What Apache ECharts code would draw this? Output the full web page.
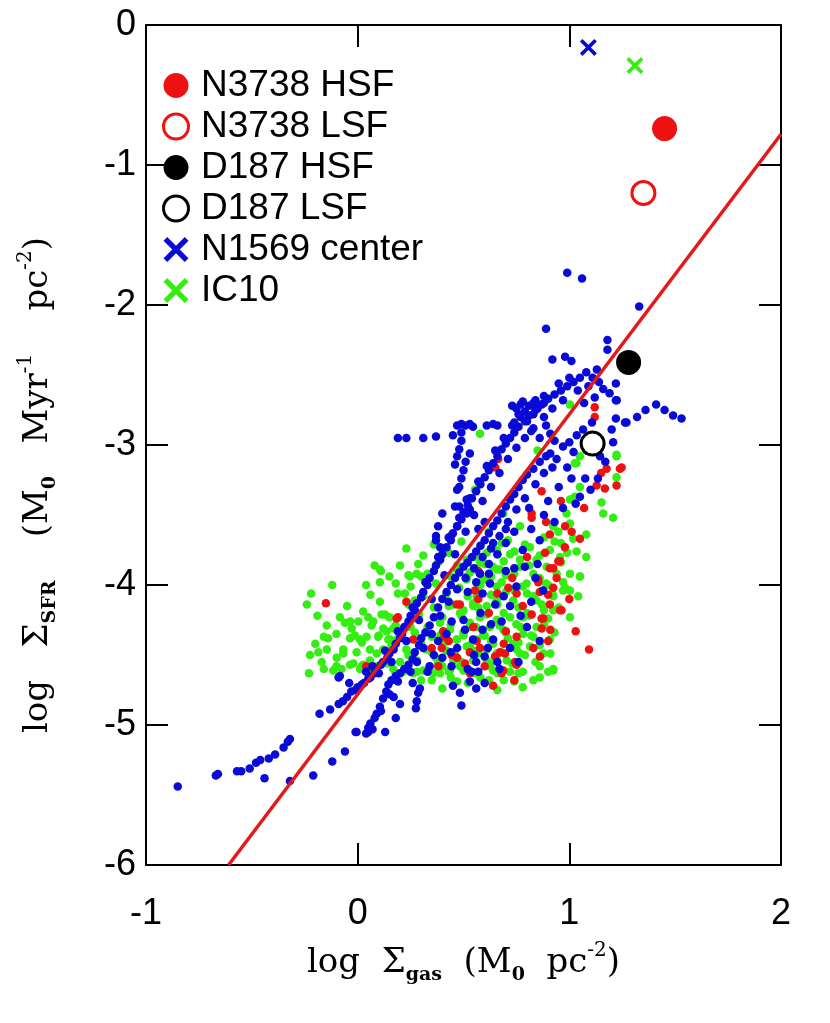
<!DOCTYPE html>
<html>
<head>
<meta charset="utf-8">
<script src="https://cdn.jsdelivr.net/npm/echarts@6/dist/echarts.min.js"></script>
<style>
  html, body { margin: 0; padding: 0; background: #fff; }
  #main { width: 830px; height: 1023px; }
</style>
</head>
<body>
<div id="main"></div>
<script>
// log Sigma_gas, log Sigma_SFR pairs
var greenDots = [
  [0.23,-3.74],[0.08,-3.86],[0.11,-3.90],[0.286,-3.85],[0.279,-3.92],[0.24,-3.93],[-0.22,-4.06],[-0.12,-4.0],
  [0.04,-4.0],[0.105,-3.98],[0.18,-3.99],[0.223,-4.06],[-0.24,-4.14],[-0.084,-4.23],[-0.06,-4.27],[-0.028,-4.31],
  [-0.146,-4.29],[-0.16,-4.37],[-0.14,-4.38],[0.003,-4.26],[0.026,-4.19],[0.105,-4.12],[0.113,-4.21],[0.15,-4.23],
  [0.066,-4.29],[0.042,-4.37],[0.097,-4.37],[0.137,-4.33],[-0.036,-4.38],[0.011,-4.39],[-0.225,-4.50],[-0.186,-4.48],
  [-0.146,-4.46],[-0.099,-4.52],[-0.068,-4.49],[-0.02,-4.56],[0.026,-4.57],[-0.23,-4.63],[-0.16,-4.60],[-0.115,-4.61],
  [-0.076,-4.60],[0.011,-4.60],[0.058,-4.54],[0.121,-4.46],[0.153,-4.39],[0.184,-4.39],[0.23,-4.46],[0.168,-4.60],
  [0.215,-4.62],[0.263,-4.63],[0.31,-4.61],[0.357,-4.63],[0.40,-4.58],[0.325,-4.46],[0.30,-3.94],[0.247,-3.94],
  [0.27,-4.11],[0.129,-4.21],[-0.036,-4.26],[0.074,-4.26],[0.121,-4.31],[0.168,-4.31],[-0.013,-4.36],[0.145,-4.39],
  [-0.068,-4.46],[-0.005,-4.48],[0.058,-4.46],[-0.10,-4.58],[-0.036,-4.57],[0.019,-4.58],[0.09,-4.58],[0.28,-4.62],
  [0.34,-4.58],[0.389,-4.27],[0.436,-4.32],[0.468,-4.39],[0.50,-4.36],[0.53,-4.30],[0.562,-4.39],[0.593,-4.36],
  [0.625,-4.30],[0.657,-4.25],[0.61,-4.46],[0.657,-4.51],[0.546,-4.54],[0.483,-4.58],[0.436,-4.61],[0.389,-4.63],
  [0.515,-3.96],[0.562,-4.04],[0.61,-3.96],[0.64,-3.87],[0.657,-4.01],[0.468,-3.89],[0.515,-3.82],[0.61,-3.77],
  [0.657,-3.75],[0.546,-4.13],[0.61,-4.15],[0.50,-4.18],[0.578,-3.84],[0.657,-3.89],[0.70,-3.93],[0.767,-3.87],
  [0.83,-3.92],[0.893,-3.87],[1.003,-3.92],[1.05,-3.94],[0.97,-4.04],[0.924,-4.08],[0.80,-4.06],[0.735,-4.11],
  [0.80,-4.20],[0.845,-4.30],[0.782,-4.35],[0.735,-4.42],[0.767,-4.49],[0.814,-4.44],[0.704,-4.54],[0.657,-4.49],
  [0.625,-4.58],[0.924,-4.60],[0.877,-4.49],[0.908,-4.39],[0.50,-4.61],[0.452,-4.54],[0.515,-4.44],[0.468,-4.39],
  [0.53,-4.27],[0.483,-4.20],[0.546,-4.15],[0.593,-3.96],[0.515,-3.94],[0.562,-4.08],[1.223,-3.08],[1.223,-3.23],
  [1.152,-3.41],[1.207,-3.52],[1.16,-3.49],[1.08,-3.64],[1.08,-3.80],[1.05,-3.94],[1.042,-4.08],[1.003,-4.04],
  [0.971,-3.98],[1.003,-4.23],[0.924,-4.61],[1.026,-3.37],[1.05,-3.30],[1.003,-3.39],[1.034,-3.13],[1.05,-3.08],
  [0.948,-3.62],[1.018,-3.67],[1.034,-3.76],[0.554,-3.32],[0.688,-3.49],[0.767,-3.58],[0.814,-3.73],[0.908,-3.75],
  [0.956,-3.80],[0.845,-3.82],[0.767,-3.82],[0.672,-3.89],[0.625,-3.99],[0.798,-3.99],[0.845,-4.11],[0.924,-4.18],
  [0.782,-4.23],[0.72,-4.15],[0.657,-4.11],[0.578,-4.23],[0.688,-4.32],[0.83,-4.37],[0.751,-4.46],[0.625,-4.56],
  [0.924,-3.58],[0.987,-3.49],[1.003,-3.56],[1.003,-2.71],[1.223,-3.07],[1.026,-3.13],[0.85,-3.04],[1.08,-3.04],
  [0.578,-2.92],[0.56,-3.32],[0.105,-3.89],[0.72,-4.62],[0.78,-4.62],[0.86,-4.58],[0.69,-4.68],[0.58,-4.66],
  [0.44,-4.66],[0.30,-4.68],[0.20,-4.55],[0.37,-4.52],[0.42,-4.47],[0.55,-4.47],[0.71,-4.38],[0.75,-4.28],
  [0.88,-4.18],[0.90,-4.00],[0.72,-3.78],[0.68,-3.70],[0.62,-3.62],[0.88,-3.66],[0.96,-3.70],[0.74,-4.04],
  [0.69,-4.20],[0.63,-4.40],[0.35,-4.37],[0.25,-4.30],[0.43,-4.15],[0.86,-4.66],[0.66,-4.63],[0.52,-4.70],
  [0.36,-3.71],[0.49,-3.69],[0.58,-3.72],[0.71,-3.68],[0.79,-3.71],[0.93,-3.69],
  [0.31,-3.79],[0.43,-3.77],[0.55,-3.80],[0.66,-3.78],[0.74,-3.76],[0.86,-3.79],[0.99,-3.77],
  [0.20,-3.86],[0.38,-3.84],[0.47,-3.86],[0.60,-3.85],[0.69,-3.83],[0.81,-3.86],[0.96,-3.84],
  [0.15,-3.94],[0.33,-3.92],[0.44,-3.94],[0.53,-3.91],[0.63,-3.94],[0.74,-3.92],[0.86,-3.95],[0.94,-3.92],
  [0.25,-4.01],[0.37,-3.99],[0.48,-4.02],[0.58,-4.00],[0.68,-3.98],[0.78,-4.01],[0.89,-3.99],[0.98,-4.02],
  [0.06,-4.07],[0.19,-4.06],[0.31,-4.08],[0.42,-4.06],[0.52,-4.08],[0.63,-4.07],[0.70,-4.05],[0.83,-4.08],[0.92,-4.06],
  [-0.05,-4.15],[0.24,-4.14],[0.36,-4.16],[0.45,-4.14],[0.57,-4.16],[0.66,-4.14],[0.76,-4.16],[0.87,-4.14],[0.95,-4.16],
  [-0.19,-4.22],[0.05,-4.23],[0.29,-4.21],[0.40,-4.23],[0.49,-4.22],[0.61,-4.21],[0.72,-4.23],[0.81,-4.22],[0.90,-4.24],
  [0.18,-4.29],[0.33,-4.30],[0.44,-4.28],[0.56,-4.30],[0.67,-4.29],[0.77,-4.30],[0.88,-4.28],
  [-0.10,-4.35],[0.10,-4.36],[0.27,-4.34],[0.39,-4.36],[0.50,-4.34],[0.60,-4.36],[0.70,-4.34],[0.82,-4.36],[0.93,-4.34],
  [-0.20,-4.42],[0.02,-4.41],[0.16,-4.43],[0.30,-4.42],[0.41,-4.41],[0.53,-4.43],[0.64,-4.42],[0.76,-4.41],[0.86,-4.43],
  [0.09,-4.49],[0.24,-4.50],[0.35,-4.48],[0.46,-4.50],[0.57,-4.49],[0.68,-4.48],[0.79,-4.50],[0.91,-4.49],
  [-0.17,-4.55],[0.14,-4.56],[0.28,-4.54],[0.38,-4.56],[0.49,-4.55],[0.61,-4.54],[0.73,-4.56],[0.84,-4.55],
  [0.07,-4.62],[0.18,-4.63],[0.43,-4.62],[0.55,-4.63],[0.64,-4.61],[0.76,-4.63],[0.90,-4.62],
  [0.35,-4.68],[0.47,-4.69],[0.62,-4.68],[0.74,-4.69],[0.83,-4.68],[0.40,-4.74],[0.66,-4.75],[0.78,-4.73]
];
var redDots = [
  [-0.15,-4.13],[0.23,-4.12],[0.19,-4.23],[0.04,-4.58],[0.184,-4.24],[0.263,-4.39],[0.483,-4.14],[0.578,-3.92],
  [0.554,-4.04],[0.404,-4.33],[0.397,-4.45],[0.444,-4.50],[0.507,-4.56],[0.53,-4.63],[0.381,-4.58],[0.562,-4.40],
  [0.578,-4.45],[0.649,-4.51],[0.672,-4.48],[0.696,-4.49],[0.743,-4.55],[0.751,-4.57],[0.68,-4.63],[0.751,-4.37],
  [0.712,-4.02],[0.751,-4.06],[0.853,-3.96],[0.924,-4.02],[0.908,-4.14],[0.963,-4.18],[0.877,-4.24],[0.822,-4.21],
  [0.869,-4.31],[0.90,-4.40],[0.861,-4.51],[0.956,-3.83],[0.924,-3.88],[1.03,-4.33],[1.093,-4.46],[0.546,-4.30],
  [0.468,-4.14],[0.664,-3.10],[0.65,-3.16],[0.869,-3.33],[0.822,-3.49],[0.822,-3.52],[0.908,-3.64],[1.011,-3.62],
  [1.05,-3.67],[0.979,-3.73],[0.885,-3.77],[0.948,-3.83],[0.908,-3.88],[0.853,-3.98],[0.90,-4.07],[0.956,-4.18],
  [0.869,-4.24],[0.688,-4.61],[1.176,-3.17],[1.239,-3.17],[1.223,-3.29],[1.168,-3.31],[1.129,-3.29],[0.57,-3.90],
  [1.12,-2.73],[1.12,-2.80],[1.247,-3.16],[0.41,-4.37],
  [0.62,-4.20],[0.70,-4.33],[0.78,-4.15],[0.83,-4.45],[0.66,-4.06],[0.73,-3.95],[0.47,-4.52],[0.53,-4.48],
  [0.60,-4.58],[0.80,-3.80],[0.94,-3.95],[1.00,-4.10],[0.98,-3.58],[0.89,-3.55],[0.74,-4.68],[0.64,-4.72],
  [0.43,-4.40],[0.35,-4.45],[0.57,-4.10],[0.86,-4.05],[0.91,-4.32],[0.69,-4.42],[1.07,-3.45],[0.96,-3.40],[1.15,-3.20]
];
var blueDots = [
  [-0.85,-5.44],[-0.67,-5.36],[-0.66,-5.35],[-0.57,-5.33],[-0.55,-5.33],[-0.51,-5.31],[-0.48,-5.27],[-0.46,-5.25],
  [-0.42,-5.24],[-0.39,-5.21],[-0.35,-5.16],[-0.33,-5.12],[-0.32,-5.10],[-0.44,-5.38],[-0.32,-5.40],[-0.21,-5.36],
  [-0.12,-5.26],[-0.06,-5.19],[-0.01,-5.05],[0.05,-5.05],[0.13,-5.05],
  [-0.18,-4.92],[-0.13,-4.89],[-0.09,-4.85],[-0.07,-4.83],[-0.05,-4.80],[-0.03,-4.76],[-0.01,-4.75],[0.0,-4.73],
  [0.02,-4.71],[0.03,-4.70],[0.05,-4.67],[0.06,-4.66],[-0.09,-4.66],[0.08,-4.63],[0.09,-4.60],[0.11,-4.57],
  [0.12,-4.55],[0.14,-4.52],[0.15,-4.49],[0.17,-4.46],[0.18,-4.42],[0.20,-4.38],[0.21,-4.35],[0.22,-4.30],
  [0.24,-4.26],[0.25,-4.22],[0.27,-4.18],[0.28,-4.13],[0.30,-4.09],[0.31,-4.05],[0.33,-4.00],[0.34,-3.95],
  [0.36,-3.90],[0.37,-3.86],[0.39,-3.82],[0.40,-3.78],[0.42,-3.73],[0.44,-3.68],[0.45,-3.63],[0.47,-3.58],
  [0.49,-3.53],[0.50,-3.48],[0.52,-3.43],[0.54,-3.38],[0.56,-3.33],[0.58,-3.28],[0.60,-3.23],[0.62,-3.18],
  [0.64,-3.13],[0.66,-3.08],[0.68,-3.03],[0.70,-2.99],[0.72,-2.95],[0.74,-2.91],[0.76,-2.87],[0.79,-2.83],
  [0.81,-2.79],[0.84,-2.75],[0.87,-2.71],[0.90,-2.67],[0.93,-2.64],[0.96,-2.61],[0.99,-2.58],[1.02,-2.55],
  [0.10,-4.63],[0.16,-4.55],[0.23,-4.40],[0.29,-4.25],[0.35,-4.10],[0.41,-3.93],[0.46,-3.78],[0.51,-3.62],
  [0.55,-3.50],[0.59,-3.40],[0.63,-3.30],[0.67,-3.20],[0.71,-3.10],[0.75,-3.02],[0.79,-2.95],[0.83,-2.88],
  [0.88,-2.80],[0.92,-2.74],[0.97,-2.68],
  [-0.04,-4.70],[0.04,-4.62],[0.07,-4.58],[0.13,-4.47],[0.19,-4.33],[0.26,-4.16],[0.32,-3.98],[0.38,-3.80],
  [0.43,-3.66],[0.48,-3.52],[0.53,-3.38],[0.57,-3.26],[0.61,-3.15],[0.65,-3.04],[0.69,-2.95],[0.73,-2.86],
  [0.77,-2.80],[0.83,-2.70],[0.88,-2.65],[0.95,-2.56],[1.00,-2.52],
  [0.47,-3.32],[0.48,-3.44],[0.515,-3.49],[0.47,-3.58],[0.40,-3.49],[0.38,-3.58],[0.37,-3.65],[0.39,-3.73],
  [0.48,-3.30],[0.515,-3.39],[0.53,-3.46],[0.46,-3.44],[0.37,-3.68],[0.44,-3.65],[0.49,-3.24],[0.50,-3.18],
  [0.51,-3.12],[0.53,-3.06],
  [0.19,-2.95],[0.23,-2.95],[0.31,-2.95],[0.37,-2.94],[0.45,-2.93],[0.47,-2.86],[0.49,-2.85],[0.51,-2.86],
  [0.53,-2.85],[0.545,-2.87],[0.61,-2.86],[0.64,-2.85],[0.66,-2.86],[0.49,-2.91],[0.49,-2.97],[0.48,-3.03],
  [0.47,-3.08],[0.46,-3.14],
  [0.73,-2.72],[0.75,-2.74],[0.77,-2.71],[0.79,-2.76],[0.81,-2.72],[0.83,-2.78],[0.85,-2.74],[0.80,-2.83],
  [0.82,-2.90],[0.86,-2.95],[0.78,-2.69],[0.84,-2.68],[0.88,-2.70],[0.76,-2.78],[0.74,-2.84],[0.89,-2.86],
  [0.91,-2.92],[0.93,-2.97],
  [0.99,-1.77],[1.06,-1.81],[1.33,-2.01],[0.89,-2.17],[0.92,-2.39],[0.98,-2.37],[1.01,-2.40],[1.18,-2.25],
  [1.18,-2.32],[1.22,-2.56],[1.27,-2.84],[1.32,-2.80],[1.36,-2.75],[1.41,-2.71],[1.45,-2.75],[1.49,-2.79],
  [1.53,-2.81],[1.22,-2.68],[1.22,-2.81],[1.08,-2.48],[1.11,-2.52],[1.14,-2.55],[1.16,-2.60],[1.19,-2.63],
  [1.13,-2.46],[1.09,-2.58],[1.05,-2.52],[1.04,-2.61],[1.12,-2.66],[1.07,-2.70],
  [0.04,-5.06],[0.05,-5.02],[0.06,-4.99],[0.08,-4.95],[0.09,-4.92],[0.105,-4.87],[0.12,-4.81],[0.135,-4.76],
  [0.145,-4.71],[0.16,-4.68],[0.18,-4.65],[0.20,-4.63],[0.22,-4.60],[0.24,-4.57],[0.26,-4.53],[0.27,-4.48],
  [0.29,-4.43],[0.30,-4.38],[0.32,-4.34],[0.34,-4.29],[0.36,-4.23],[0.38,-4.16],[0.40,-4.10],[0.42,-4.05],
  [0.44,-4.00],[0.46,-3.95],[0.48,-3.91],[0.50,-3.87],[0.52,-3.84],[0.54,-3.80],[0.56,-3.76],[0.58,-3.72],
  [0.60,-3.68],[0.62,-3.63],[0.64,-3.58],[0.66,-3.54],[0.68,-3.49],[0.70,-3.44],[0.72,-3.39],[0.74,-3.35],
  [0.76,-3.30],[0.78,-3.25],[0.80,-3.21],[0.83,-3.17],[0.86,-3.12],[0.89,-3.08],[0.91,-3.06],[0.97,-3.01],
  [1.00,-2.98],[1.035,-2.93],[1.065,-2.89],[1.107,-2.84],
  [0.07,-5.03],[0.11,-4.90],[0.15,-4.78],[0.19,-4.69],[0.25,-4.62],[0.28,-4.55],[0.31,-4.45],[0.35,-4.35],
  [0.39,-4.22],[0.43,-4.12],[0.47,-4.03],[0.51,-3.95],[0.55,-3.88],[0.59,-3.80],[0.63,-3.74],[0.67,-3.65],
  [0.71,-3.55],[0.75,-3.46],[0.79,-3.38],[0.84,-3.28],[0.88,-3.20],[0.94,-3.10],[1.02,-3.05],
  [0.92,-3.16],[0.99,-3.16],[1.01,-3.24],[1.075,-3.24],[1.135,-3.24],[1.10,-3.32],[1.05,-3.37],[1.03,-3.42],
  [1.145,-3.08],[1.17,-3.12],[1.207,-2.98],[1.20,-2.89],[1.224,-2.68],[1.263,-2.84],[0.95,-3.30],[0.97,-3.45],
  [0.90,-3.40],[0.93,-3.55],[0.88,-3.50],
  [0.483,-4.77],[0.49,-4.86],[0.56,-4.74],[0.60,-4.70],[0.53,-4.69],[0.57,-4.62],[0.294,-4.74],[0.279,-4.83],
  [0.286,-4.77],[0.275,-4.88],[-0.084,-4.65],[-0.005,-5.05],[0.578,-3.92],[0.625,-3.99],[0.59,-4.06],[0.65,-4.14],
  [0.68,-4.26],[0.59,-4.32],[0.615,-4.45],[0.60,-4.51],[0.72,-4.15],[0.75,-4.01],[0.79,-3.87],[0.876,-4.04],
  [0.64,-4.39],[0.545,-4.39],[0.507,-4.32],[0.444,-4.26],[0.40,-4.52],[0.444,-4.58],[0.539,-4.62],[0.70,-3.70],
  [0.74,-3.62],[0.66,-3.78],[0.82,-3.60],[0.78,-3.75],[0.85,-3.85],[0.70,-3.90],[0.62,-3.85],[0.58,-4.20],
  [0.66,-4.55],[0.72,-4.45],[0.80,-4.30],[0.86,-4.40],[0.76,-4.55],[0.82,-4.12],[0.47,-4.45],[0.36,-4.50],
  [0.33,-4.62],[0.38,-4.40],[0.26,-4.70],[0.20,-4.85],[0.18,-4.95],[0.17,-4.80],[0.34,-4.58],[0.52,-4.05],
  [0.56,-3.98],[0.64,-3.70],[0.60,-3.55],[0.57,-3.60],[0.55,-4.50],[0.45,-4.72],
  [0.42,-4.35],[0.50,-4.25],[0.56,-4.55],[0.63,-4.28],[0.69,-4.08],[0.74,-3.88],[0.77,-4.22],[0.84,-3.95],
  [0.67,-4.60],[0.52,-4.60],[0.44,-4.48],[0.62,-3.92],[0.70,-3.60],[0.81,-3.45],[0.86,-3.68]
];
var n3738HSF = [[1.45, -0.74]];
var n3738LSF = [[1.35, -1.20]];
var d187HSF = [[1.28, -2.41]];
var d187LSF = [[1.11, -2.99]];
var n1569Center = [[1.09, -0.16]];
var ic10 = [[1.31, -0.29]];
var fitLine = [[-0.61, -6], [2, -0.78]];

var RED = '#ee1111', BLUE = '#0a0ad8', GREEN = '#33ee11';
var cross = 'path://M0,1.5L1.5,0L5,3.5L8.5,0L10,1.5L6.5,5L10,8.5L8.5,10L5,6.5L1.5,10L0,8.5L3.5,5Z';

var chart = echarts.init(document.getElementById('main'));

var serif = 'DejaVu Serif';
var nameRich = {
  n: { fontFamily: serif, fontSize: 34, lineHeight: 44, color: '#000' },
  s: { fontFamily: serif, fontSize: 19, fontWeight: 'bold', lineHeight: 16, verticalAlign: 'bottom', color: '#000' },
  p: { fontFamily: serif, fontSize: 20, lineHeight: 22, verticalAlign: 'top', color: '#000' },
  e: { width: 80 }
};

function dotSeries(name, data, color) {
  return {
    name: name, type: 'scatter', data: data, symbol: 'circle', symbolSize: 8.5,
    itemStyle: { color: color, opacity: 1 }, silent: true, z: 2
  };
}

function bigSeries(name, data, symbol, size, style) {
  style.opacity = 1;
  return { name: name, type: 'scatter', data: data, symbol: symbol, symbolSize: size, z: 5, itemStyle: style };
}

var tickStyle = { inside: true, length: 22, lineStyle: { color: '#000', width: 2 } };
var lineStyle = { show: true, onZero: false, lineStyle: { color: '#000', width: 2 } };
var labelFont = { fontFamily: 'Liberation Sans', fontSize: 36, color: '#000' };

var option = {
  backgroundColor: '#fff',
  animation: false,
  grid: { left: 146, right: 49, top: 25, bottom: 158 },
  legend: {
    orient: 'vertical', left: 157, top: 62, itemWidth: 40, itemHeight: 25, itemGap: 4,
    selectedMode: false,
    textStyle: { fontFamily: 'Liberation Sans', fontSize: 37, lineHeight: 31, color: '#000' },
    data: [
      { name: 'N3738 HSF', icon: 'circle', itemStyle: { color: RED, opacity: 1 } },
      { name: 'N3738 LSF', icon: 'circle', itemStyle: { color: '#fff', borderColor: RED, borderWidth: 3, opacity: 1 } },
      { name: 'D187 HSF', icon: 'circle', itemStyle: { color: '#000', opacity: 1 } },
      { name: 'D187 LSF', icon: 'circle', itemStyle: { color: '#fff', borderColor: '#000', borderWidth: 3, opacity: 1 } },
      { name: 'N1569 center', icon: cross, itemStyle: { color: BLUE, opacity: 1 } },
      { name: 'IC10', icon: cross, itemStyle: { color: GREEN, opacity: 1 } }
    ]
  },
  xAxis: [{
    type: 'value', min: -1, max: 2, interval: 1, position: 'bottom',
    axisLine: lineStyle, axisTick: tickStyle, splitLine: { show: false },
    axisLabel: Object.assign({ margin: 31, showMinLabel: true, showMaxLabel: true }, labelFont),
    name: '{n|log  Σ}{s|gas}{n|  (M}{s|0}{n|  pc}{p|-2}{n|)}',
    nameLocation: 'middle', nameGap: 76,
    nameTextStyle: { rich: nameRich }
  }, {
    type: 'value', min: -1, max: 2, interval: 1, position: 'top',
    axisLine: lineStyle, axisTick: tickStyle, axisLabel: { show: false }, splitLine: { show: false }
  }],
  yAxis: [{
    type: 'value', min: -6, max: 0, interval: 1, position: 'left',
    axisLine: lineStyle, axisTick: tickStyle, splitLine: { show: false },
    axisLabel: Object.assign({ margin: 10, showMinLabel: true, showMaxLabel: true }, labelFont),
    name: '{n|log   Σ}{s|SFR}{n|    (M}{s|0}{n|   Myr}{p|-1}{n|    pc}{p|-2}{n|)}{e|}',
    nameLocation: 'middle', nameGap: 86, nameRotate: 90,
    nameTextStyle: { rich: nameRich }
  }, {
    type: 'value', min: -6, max: 0, interval: 1, position: 'right',
    axisLine: lineStyle, axisTick: tickStyle, axisLabel: { show: false }, splitLine: { show: false }
  }],
  series: [
    dotSeries('IC10 pixels', greenDots, GREEN),
    dotSeries('N3738 pixels', redDots, RED),
    dotSeries('N1569 pixels', blueDots, BLUE),
    {
      name: 'fit', type: 'line', data: fitLine, symbol: 'none', silent: true, z: 4,
      lineStyle: { color: '#e31a1a', width: 3.5 }
    },
    bigSeries('N3738 HSF', n3738HSF, 'circle', 25, { color: RED }),
    bigSeries('N3738 LSF', n3738LSF, 'circle', 23, { color: '#fff', borderColor: RED, borderWidth: 3 }),
    bigSeries('D187 HSF', d187HSF, 'circle', 25, { color: '#000' }),
    bigSeries('D187 LSF', d187LSF, 'circle', 23, { color: '#fff', borderColor: '#000', borderWidth: 3 }),
    bigSeries('N1569 center', n1569Center, cross, 17, { color: BLUE }),
    bigSeries('IC10', ic10, cross, 17, { color: GREEN })
  ]
};

chart.setOption(option);
</script>
</body>
</html>
